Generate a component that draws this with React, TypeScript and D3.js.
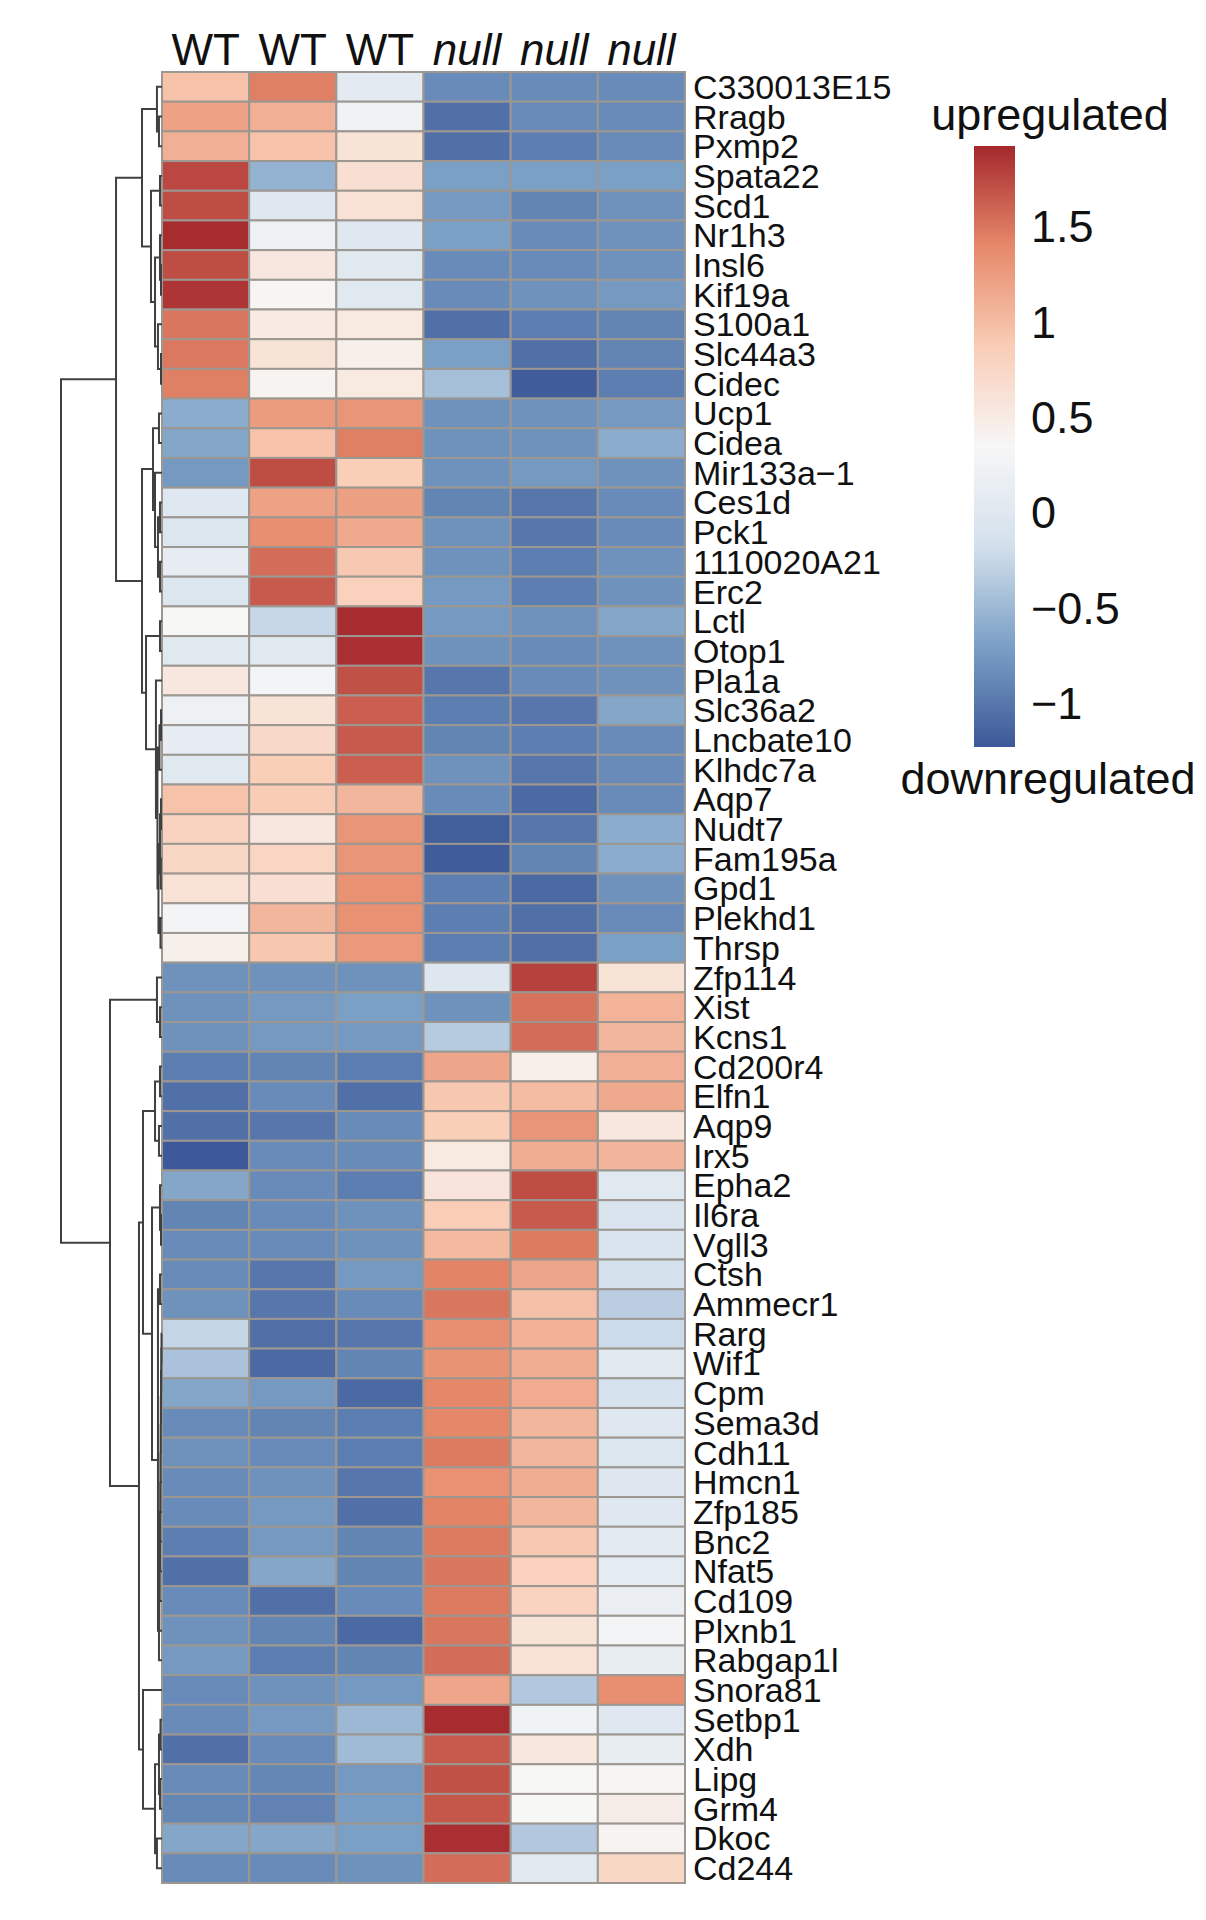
import React from 'react';
import * as d3 from 'd3';

const genes = [
  'C330013E15', 'Rragb', 'Pxmp2', 'Spata22', 'Scd1', 'Nr1h3', 'Insl6', 'Kif19a', 'S100a1', 'Slc44a3', 'Cidec',
  'Ucp1', 'Cidea', 'Mir133a\u22121', 'Ces1d', 'Pck1', '1110020A21', 'Erc2', 'Lctl', 'Otop1', 'Pla1a', 'Slc36a2',
  'Lncbate10', 'Klhdc7a', 'Aqp7', 'Nudt7', 'Fam195a', 'Gpd1', 'Plekhd1', 'Thrsp', 'Zfp114', 'Xist', 'Kcns1',
  'Cd200r4', 'Elfn1', 'Aqp9', 'Irx5', 'Epha2', 'Il6ra', 'Vgll3', 'Ctsh', 'Ammecr1', 'Rarg', 'Wif1', 'Cpm',
  'Sema3d', 'Cdh11', 'Hmcn1', 'Zfp185', 'Bnc2', 'Nfat5', 'Cd109', 'Plxnb1', 'Rabgap1l', 'Snora81', 'Setbp1',
  'Xdh', 'Lipg', 'Grm4', 'Dkoc', 'Cd244',
];

const columnLabels = ['WT', 'WT', 'WT', 'null', 'null', 'null'];
const columnItalic = [false, false, false, true, true, true];

// rows = genes, columns = samples (WT x3, null x3)
const expression: number[][] = [
  [0.95, 1.45, 0.05, -0.85, -0.85, -0.85],
  [1.2, 1.1, 0.25, -1.05, -0.85, -0.85],
  [1.1, 0.95, 0.6, -1.05, -0.95, -0.85],
  [1.75, -0.55, 0.65, -0.7, -0.7, -0.7],
  [1.72, 0.0, 0.62, -0.75, -0.9, -0.8],
  [1.9, 0.2, 0.0, -0.7, -0.85, -0.8],
  [1.72, 0.55, 0.02, -0.85, -0.85, -0.8],
  [1.85, 0.38, 0.02, -0.85, -0.8, -0.75],
  [1.5, 0.5, 0.52, -1.05, -0.95, -0.9],
  [1.48, 0.6, 0.45, -0.7, -1.05, -0.9],
  [1.45, 0.4, 0.52, -0.45, -1.2, -0.95],
  [-0.6, 1.25, 1.3, -0.8, -0.8, -0.75],
  [-0.65, 0.95, 1.45, -0.8, -0.8, -0.6],
  [-0.75, 1.72, 0.85, -0.8, -0.75, -0.8],
  [0.0, 1.2, 1.22, -0.9, -1.0, -0.85],
  [-0.05, 1.35, 1.15, -0.8, -1.0, -0.85],
  [0.1, 1.55, 0.9, -0.8, -0.95, -0.8],
  [-0.05, 1.65, 0.82, -0.75, -0.95, -0.8],
  [0.35, -0.25, 1.9, -0.75, -0.8, -0.65],
  [0.02, 0.02, 1.88, -0.8, -0.85, -0.8],
  [0.55, 0.28, 1.7, -1.0, -0.85, -0.8],
  [0.2, 0.6, 1.62, -0.95, -1.0, -0.65],
  [0.1, 0.72, 1.65, -0.9, -0.95, -0.85],
  [0.02, 0.85, 1.62, -0.8, -1.0, -0.85],
  [0.95, 0.88, 1.05, -0.85, -1.1, -0.85],
  [0.8, 0.55, 1.3, -1.18, -1.0, -0.6],
  [0.75, 0.76, 1.3, -1.2, -0.9, -0.6],
  [0.62, 0.65, 1.33, -0.95, -1.1, -0.8],
  [0.28, 1.05, 1.33, -0.95, -1.05, -0.85],
  [0.45, 0.92, 1.27, -0.95, -1.05, -0.7],
  [-0.8, -0.8, -0.8, -0.02, 1.78, 0.6],
  [-0.8, -0.75, -0.7, -0.8, 1.52, 1.07],
  [-0.8, -0.75, -0.75, -0.35, 1.55, 1.05],
  [-0.95, -0.9, -0.95, 1.17, 0.45, 1.1],
  [-1.05, -0.85, -1.05, 0.92, 1.0, 1.15],
  [-1.05, -1.0, -0.85, 0.85, 1.3, 0.55],
  [-1.22, -0.85, -0.85, 0.52, 1.12, 1.06],
  [-0.65, -0.85, -0.95, 0.58, 1.72, 0.02],
  [-0.9, -0.85, -0.8, 0.87, 1.65, -0.08],
  [-0.85, -0.85, -0.8, 1.02, 1.47, -0.08],
  [-0.85, -1.0, -0.75, 1.42, 1.17, -0.15],
  [-0.8, -1.0, -0.85, 1.5, 0.97, -0.33],
  [-0.27, -1.05, -1.0, 1.35, 1.08, -0.22],
  [-0.42, -1.1, -0.9, 1.32, 1.12, 0.02],
  [-0.65, -0.75, -1.1, 1.4, 1.13, -0.13],
  [-0.85, -0.9, -0.95, 1.4, 1.05, 0.0],
  [-0.8, -0.85, -0.95, 1.47, 1.05, -0.05],
  [-0.85, -0.8, -1.0, 1.33, 1.12, -0.02],
  [-0.85, -0.75, -1.05, 1.42, 1.05, 0.0],
  [-0.95, -0.75, -0.9, 1.47, 0.9, 0.05],
  [-1.05, -0.65, -0.9, 1.5, 0.82, 0.07],
  [-0.85, -1.05, -0.85, 1.47, 0.8, 0.15],
  [-0.8, -0.9, -1.1, 1.5, 0.6, 0.27],
  [-0.75, -0.95, -0.9, 1.55, 0.62, 0.12],
  [-0.85, -0.8, -0.75, 1.18, -0.37, 1.35],
  [-0.85, -0.75, -0.5, 1.9, 0.25, 0.0],
  [-1.05, -0.85, -0.48, 1.65, 0.55, 0.12],
  [-0.85, -0.88, -0.75, 1.7, 0.35, 0.38],
  [-0.88, -0.92, -0.72, 1.67, 0.35, 0.47],
  [-0.65, -0.65, -0.7, 1.88, -0.37, 0.4],
  [-0.85, -0.85, -0.8, 1.55, 0.03, 0.75],
];

const colorDomain = [-1.23, -0.705, -0.18, 0.345, 0.87, 1.395, 1.92];
const colorRange = ['#3c5898', '#7a9fc5', '#d3e0ec', '#f7f7f7', '#f9cdb6', '#e6896a', '#a5282d'];
const legendTicks = [-1, -0.5, 0, 0.5, 1, 1.5];
const legendTitleTop = 'upregulated';
const legendTitleBottom = 'downregulated';

// row dendrogram: leaf = row index, node = [height, left, right]
type Tree = number | [number, Tree, Tree];
const rowTree: Tree = [10,
  [4.55,
    [1.98,
      [0.5, 0, [0.3, 1, 2]],
      [1.09, [0.2, 3, 4], [0.69, [0.2, 5, [0.1, 6, 7]], [0.4, 8, [0.1, 9, 10]]]]],
    [1.98,
      [0.89, [0.3, 11, 12], [0.69, 13, [0.4, [0.2, 14, 15], [0.2, 16, 17]]]],
      [1.58, [0.2, 18, 19],
        [0.6, 20, [0.45, [0.25, [0.1, 21, 22], 23], [0.35, [0.2, [0.1, 24, 25], [0.12, 26, 27]], [0.15, 28, 29]]]]]]],
  [5.15,
    [0.5, 30, [0.2, 31, 32]],
    [2.28,
      [1.88,
        [0.69, [0.2, 33, 34], [0.3, 35, 36]],
        [0.99,
          [0.2, 37, [0.1, 38, 39]],
          [0.4, [0.2, 40, 41],
            [0.3, [0.26, [0.22, [0.2, [0.18, [0.16, [0.14, [0.12, [0.1, [0.08, [0.05, 42, 43], 44], 45], 46], 47], 48], 49], 50], 51], 52], 53]]]],
      [1.88, 54, [0.69, [0.3, [0.15, 55, 56], [0.2, 57, 58]], [0.5, 59, 60]]]]]];

const FONT = '"Liberation Sans", Arial, Helvetica, sans-serif';

export default function App() {
  const W = 1206;
  const H = 1920;
  const cols = d3.range(columnLabels.length);
  const x = d3.scaleBand<number>().domain(cols).range([162, 685]);
  const y = d3.scaleBand<string>().domain(genes).range([72, 1883]);
  const color = d3.scaleLinear<string>().domain(colorDomain).range(colorRange).interpolate(d3.interpolateRgb).clamp(true);
  const hx = d3.scaleLinear().domain([0, 10]).range([162, 61]);

  const segs: string[] = [];
  const walk = (node: Tree): { x: number; y: number } => {
    if (typeof node === 'number') {
      return { x: hx(0), y: (y(genes[node]) as number) + y.bandwidth() / 2 };
    }
    const [h, l, r] = node;
    const a = walk(l);
    const b = walk(r);
    const nx = hx(h);
    segs.push(`M${a.x},${a.y}H${nx}V${b.y}H${b.x}`);
    return { x: nx, y: (a.y + b.y) / 2 };
  };
  walk(rowTree);

  const lMin = colorDomain[0];
  const lMax = colorDomain[colorDomain.length - 1];
  const ly = d3.scaleLinear().domain([lMin, lMax]).range([747, 146]);
  const fmt = (v: number) => (v < 0 ? '\u2212' + String(Math.abs(v)) : String(v));

  return (
    <svg width={W} height={H} style={{ position: 'absolute', left: 0, top: 0, background: '#ffffff' }} fontFamily={FONT}>
      <defs>
        <linearGradient id="lg" x1="0" y1="1" x2="0" y2="0">
          {colorDomain.map((v, i) => (
            <stop key={i} offset={(v - lMin) / (lMax - lMin)} stopColor={colorRange[i]} />
          ))}
        </linearGradient>
      </defs>
      <rect x={0} y={0} width={W} height={H} fill="#ffffff" />
      {/* column labels */}
      {cols.map((c) => (
        <text key={c} x={(x(c) as number) + x.bandwidth() / 2} y={65} fontSize={44} textAnchor="middle"
          fontStyle={columnItalic[c] ? 'italic' : 'normal'} fill="#111">
          {columnLabels[c]}
        </text>
      ))}
      {/* cells */}
      {genes.map((g, r) =>
        cols.map((c) => (
          <rect key={g + c} x={x(c)} y={y(g)} width={x.bandwidth()} height={y.bandwidth()}
            fill={color(expression[r][c])} stroke="#9d9792" strokeWidth={2} />
        ))
      )}
      {/* row labels */}
      {genes.map((g) => (
        <text key={g} x={693} y={(y(g) as number) + y.bandwidth() / 2 + 12} fontSize={34} fill="#111">
          {g}
        </text>
      ))}
      {/* dendrogram */}
      <path d={segs.join('')} fill="none" stroke="#404040" strokeWidth={2} />
      {/* legend */}
      <text x={1050} y={130} fontSize={45} textAnchor="middle" fill="#111">{legendTitleTop}</text>
      <rect x={974} y={146} width={41} height={601} fill="url(#lg)" />
      {legendTicks.map((t) => (
        <text key={t} x={1031} y={ly(t) + 16} fontSize={45} fill="#111">{fmt(t)}</text>
      ))}
      <text x={1048} y={794} fontSize={45} textAnchor="middle" fill="#111">{legendTitleBottom}</text>
    </svg>
  );
}
